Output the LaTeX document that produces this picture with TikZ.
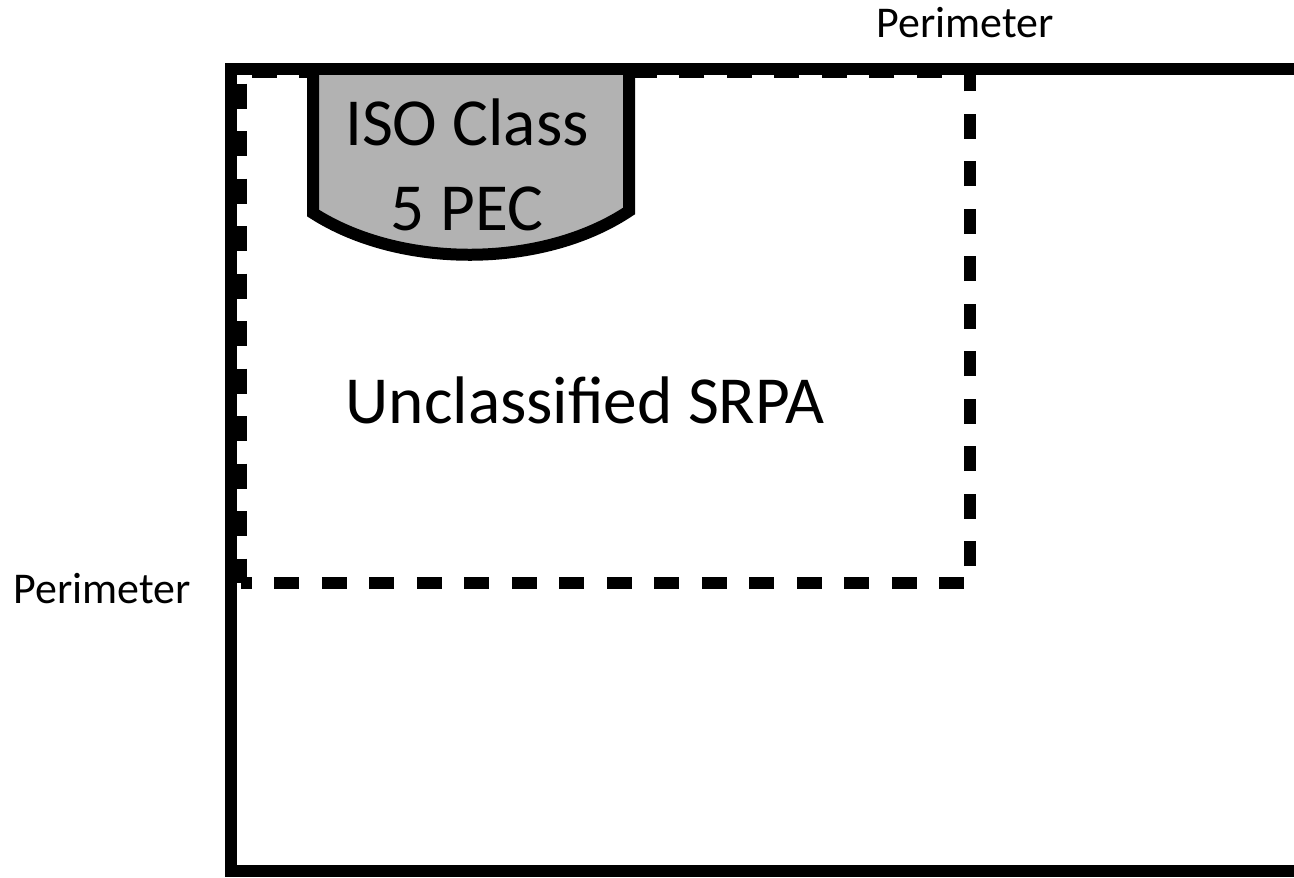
\documentclass[tikz,border=0pt]{standalone}
\usepackage{fontspec}
\setmainfont{Carlito}
\usetikzlibrary{positioning}
\definecolor{pecgray}{RGB}{178,178,178}

\begin{document}
\begin{tikzpicture}[x=0.02cm, y=-0.02cm,
                wall style/.style={line width=0.24cm, draw=black},
                srpa style/.style={line width=0.24cm, draw=black, dash pattern=on 0.5cm off 0.45cm, dash phase=0.28cm},
                pec style/.style={line width=0.24cm, draw=black, fill=pecgray, line join=miter},
                label style/.style={inner sep=0pt, font=\fontsize{25}{30}\selectfont},
                big style/.style={inner sep=0pt, align=center, font=\fontsize{38.3}{48}\selectfont}
]
    \useasboundingbox (0,0) rectangle (1294,877);
    \clip (0,0) rectangle (1294,877);

    % Corners of the room
        \coordinate (roomNW) at (231,69);
        \coordinate (roomSE) at (1300,871);
    % Corners of the SRPA
        \coordinate (srpaNW) at (241,72);
        \coordinate (srpaSE) at (970,583);

    % Unclassified SRPA (dashed)
        \draw[srpa style] (srpaNW |- srpaSE) -- (srpaSE) -- (srpaSE |- srpaNW) -- (srpaNW) -- cycle;

    % PEC hood
        \draw[pec style] (313,69) -- (313,213) .. controls (400,269) and (542,269) .. (629,211) -- (629,69);

    % Perimeter wall
        \draw[wall style] (roomNW) rectangle (roomSE);

    % Labels
        \node[big style] (pec) at (467,165) {ISO Class\\5 PEC};
        \node[big style, anchor=base] (srpa) at (585,423) {Unclassified SRPA};
        \node[label style, anchor=base] (perimtop) at (965,37) {Perimeter};
        \node[label style, anchor=base] (perimleft) at (102,603) {Perimeter};
\end{tikzpicture}
\end{document}
